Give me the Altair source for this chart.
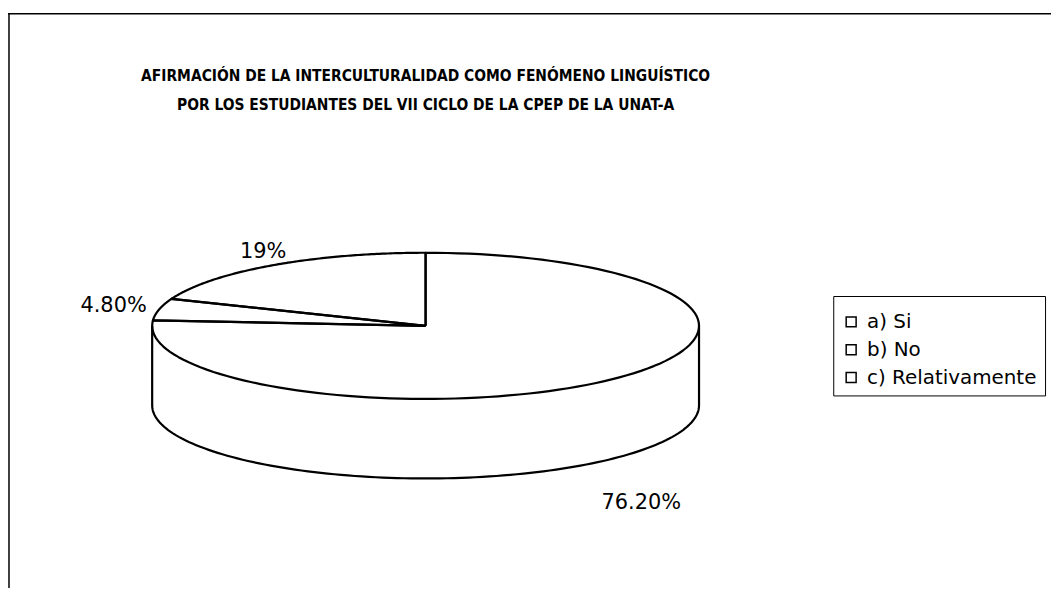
import altair as alt
import pandas as pd

# ---- data ----
categories = ["a) Si", "b) No", "c) Relativamente"]
values = [76.2, 4.8, 19.0]
labels = ["76.20%", "4.80%", "19%"]
title_lines = [
    "AFIRMACIÓN DE LA INTERCULTURALIDAD COMO FENÓMENO LINGUÍSTICO",
    "POR LOS ESTUDIANTES DEL VII CICLO DE LA CPEP DE LA UNAT-A",
]

# ---- layout constants (pixels of the plot area) ----
W, H = 1049, 580
CXP, CYP, RXP = 420.0, 318.0, 275.0       # pie centre and horizontal radius
TILT = 73.5 / RXP                         # vertical squash of the 3-D pie
DEPTH = 80.0 / RXP                        # thickness of the pie
N = 120                                   # sampling steps along arcs

FONT = '"DejaVu Sans", "Liberation Sans", Arial, sans-serif'
TFONT = '"DejaVu Sans Condensed", "Liberation Sans Narrow", "Liberation Sans", Arial, sans-serif'

df = pd.DataFrame({"cat": categories, "val": values, "label": labels,
                   "ord": list(range(len(categories)))})
df["steps"] = [list(range(-1, N + 2)) for _ in categories]

xs = alt.Scale(domain=[-CXP / RXP, (W - CXP) / RXP], nice=False, zero=False)
ys = alt.Scale(domain=[-(H - CYP) / RXP, CYP / RXP], nice=False, zero=False)

base = (
    alt.Chart(df)
    .transform_window(cum="sum(val)", sort=[alt.SortField("ord")], frame=[None, 0])
    .transform_joinaggregate(total="sum(val)")
    .transform_calculate(
        a0="2*PI*(datum.cum-datum.val)/datum.total",
        a1="2*PI*datum.cum/datum.total",
    )
)

# top face of each slice: centre -> arc -> centre
top = (
    base.transform_flatten(["steps"])
    .transform_calculate(
        k=f"clamp(datum.steps,0,{N})/{N}",
        isc=f"datum.steps<0 || datum.steps>{N}",
    )
    .transform_calculate(a="datum.a0+(datum.a1-datum.a0)*datum.k")
    .transform_calculate(
        px="datum.isc ? 0 : sin(datum.a)",
        py=f"datum.isc ? 0 : cos(datum.a)*{TILT}",
    )
    .mark_line(color="black", strokeWidth=2.2, strokeJoin="round")
    .encode(
        x=alt.X("px:Q", scale=xs, axis=None),
        y=alt.Y("py:Q", scale=ys, axis=None),
        detail="cat:N",
        order="steps:Q",
    )
)

# visible (front) side of each slice
side = (
    base.transform_calculate(
        s0="max(datum.a0, PI/2)",
        s1="min(datum.a1, 3*PI/2)",
    )
    .transform_filter("datum.s1 > datum.s0")
    .transform_flatten(["steps"])
    .transform_calculate(k=f"clamp(datum.steps,0,{N})/{N}")
    .transform_calculate(a="datum.s0+(datum.s1-datum.s0)*datum.k")
    .transform_calculate(
        px=f"datum.steps<0 ? sin(datum.s0) : (datum.steps>{N} ? sin(datum.s1) : sin(datum.a))",
        py=(f"datum.steps<0 ? cos(datum.s0)*{TILT} : (datum.steps>{N} ? cos(datum.s1)*{TILT} "
            f": cos(datum.a)*{TILT}-{DEPTH})"),
    )
    .mark_line(color="black", strokeWidth=2.2, strokeJoin="round")
    .encode(
        x=alt.X("px:Q", scale=xs, axis=None),
        y=alt.Y("py:Q", scale=ys, axis=None),
        detail="cat:N",
        order="steps:Q",
    )
)

# percentage labels, placed outside the slice along its bisector
text = (
    base.transform_calculate(mid="(datum.a0+datum.a1)/2")
    .transform_calculate(s="sin(datum.mid)", c="cos(datum.mid)")
    .transform_calculate(
        lx="datum.c<0 ? datum.s*1.16 : datum.s*(1+0.18*datum.s*datum.s)",
        ly=f"datum.c<0 ? datum.c*{TILT}*1.16 - 1.45*{DEPTH} : datum.c*{TILT}*1.22",
    )
    .mark_text(font=FONT, fontSize=21, color="black", align="center", baseline="middle")
    .encode(
        x=alt.X("lx:Q", scale=xs, axis=None),
        y=alt.Y("ly:Q", scale=ys, axis=None),
        text="label:N",
    )
)

# invisible squares that carry the legend
legend_layer = (
    base.mark_square(size=0, stroke="black", strokeWidth=1, opacity=1)
    .encode(
        x=alt.datum(0, scale=xs),
        y=alt.datum(0, scale=ys),
        fill=alt.Fill(
            "cat:N",
            scale=alt.Scale(domain=categories, range=["white", "white", "white"]),
            legend=alt.Legend(
                title=" ",
                titleFontSize=1,
                titlePadding=7,
                orient="none",
                legendX=830,
                legendY=288,
                symbolType="square",
                symbolSize=100,
                symbolFillColor="white",
                symbolStrokeColor="black",
                symbolStrokeWidth=1.5,
                labelFont=FONT,
                labelFontSize=20,
                labelColor="black",
                labelLimit=0,
                labelOffset=6,
                rowPadding=8,
                padding=8,
                strokeColor="black",
                fillColor="white",
            ),
        ),
    )
)

frame_df = pd.DataFrame({"f": [0]})
frame_top = alt.Chart(frame_df).mark_rule(color="black", strokeWidth=1.5).encode(
    x=alt.value(0), x2=alt.value(W + 10), y=alt.value(4)
)
frame_left = alt.Chart(frame_df).mark_rule(color="black", strokeWidth=1.5).encode(
    x=alt.value(1), y=alt.value(4), y2=alt.value(H + 10)
)

chart = (
    alt.layer(side, top, text, legend_layer, frame_top, frame_left)
    .properties(
        width=W,
        height=H,
        autosize=alt.AutoSizeParams(type="none"),
        padding={"left": 0, "top": 0, "right": 0, "bottom": 0},
        view=alt.ViewBackground(stroke=None, fill="white"),
        title=alt.TitleParams(
            text=title_lines,
            anchor="middle",
            frame="group",
            orient="top",
            offset=0,
            baseline="middle",
            dx=CXP - W / 2,
            dy=111,
            font=TFONT,
            fontSize=15.5,
            fontWeight="bold",
            lineHeight=29,
            color="black",
        ),
    )
    .configure_view(stroke=None, strokeOpacity=0)
    .configure(background="white")
)

chart.save("out.html", embed_options={"renderer": "svg", "actions": False})
